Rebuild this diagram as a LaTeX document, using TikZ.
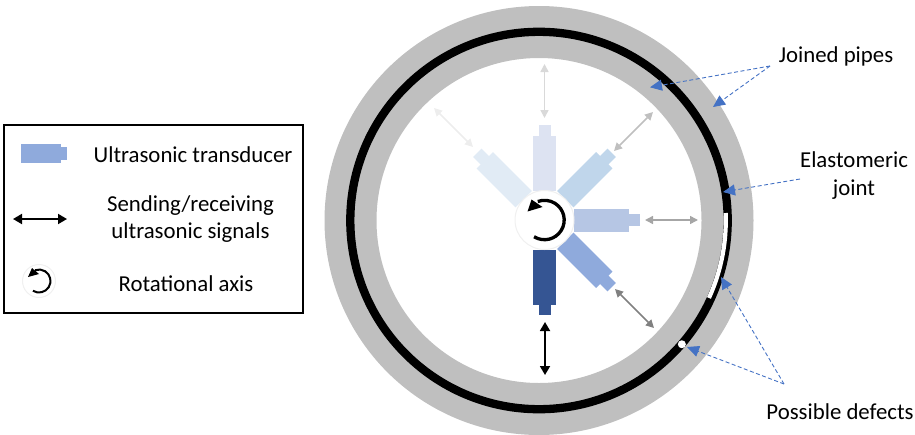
\documentclass[tikz,border=0pt]{standalone}
\usepackage{fontspec}
\setmainfont{Carlito}
\usetikzlibrary{arrows.meta,calc}
\definecolor{ringgray}{HTML}{BFBFBF}
\definecolor{callout}{HTML}{4472C4}
\definecolor{tA}{HTML}{E1EBF5}
\definecolor{tB}{HTML}{DDE3F2}
\definecolor{tC}{HTML}{C0D6EB}
\definecolor{tD}{HTML}{B6C6E4}
\definecolor{tE}{HTML}{8FAADC}
\definecolor{tF}{HTML}{355593}
\tikzset{
  x=1pt,y=-1pt,
  label text/.style={font=\fontsize{22.8}{27.5}\selectfont,inner sep=0pt,text=black,align=center},
  double arrow/.style={{Triangle[length=8pt,width=8pt]}-{Triangle[length=8pt,width=8pt]},line width=1.5pt},
  black arrow/.style={{Triangle[length=9pt,width=10pt]}-{Triangle[length=9pt,width=10pt]},line width=1.8pt,black},
  callout arrow/.style={-{Triangle[length=12pt,width=11pt]},callout,line width=.9pt,dash pattern=on 4pt off 2.5pt},
  rotor/.style={draw=black!6,line width=1pt,fill=white},
}
\newcommand{\transducer}[2]{%
  \begin{scope}[shift={(tc)},rotate=#1]
    \fill[#2] (29.5,-11.5) rectangle (84.5,11.5);
    \fill[#2] (84,-6) rectangle (95,6);
  \end{scope}}
\begin{document}
\begin{tikzpicture}
\useasboundingbox (0,0) rectangle (915,434);
\coordinate (ring) at (539,220.5);
\coordinate (tc) at (544.5,220);
% pipes
\fill[ringgray,even odd rule] (ring) circle[radius=214.5pt] (ring) circle[radius=162.5pt];
\draw[black,line width=8.3pt] (ring) circle[radius=188.7pt];
% defects
\draw[white,line width=4.2pt] ([shift={(2.3:186.8pt)}]ring) arc[start angle=2.3,end angle=-24.5,radius=186.8pt];
\fill[white] ([shift={(-40.9:189pt)}]ring) circle[radius=4pt];
% transducers
\transducer{135}{tA}
\transducer{90}{tB}
\transducer{45}{tC}
\transducer{0}{tD}
\transducer{-45}{tE}
\transducer{-90}{tF}
% rotor
\node[circle,rotor,minimum size=59pt,inner sep=0pt] (hub) at (tc) {};
\draw[line width=3.3pt,black] ([shift={(-122:19.7pt)}]tc) arc[start angle=-122,end angle=110,radius=19.7pt];
\fill[black] (527.5,211.5) -- (531.5,199.5) -- (542.5,207) -- cycle;
% signal arrows
\coordinate (s1a) at (434,108); \coordinate (s1b) at (473,147);
\coordinate (s2a) at (544.5,64); \coordinate (s2b) at (544.5,118);
\coordinate (s3a) at (614,151); \coordinate (s3b) at (653,112);
\coordinate (s4a) at (645,220); \coordinate (s4b) at (698,220);
\coordinate (s5a) at (615,289); \coordinate (s5b) at (654,328);
\coordinate (s6a) at (545,322); \coordinate (s6b) at (545,375);
\draw[double arrow,color=black!7] (s1a) -- (s1b);
\draw[double arrow,color=black!15] (s2a) -- (s2b);
\draw[double arrow,color=black!25] (s3a) -- (s3b);
\draw[double arrow,color=black!35] (s4a) -- (s4b);
\draw[double arrow,color=black!50] (s5a) -- (s5b);
\draw[black arrow] (s6a) -- (s6b);
% right labels
\node[label text] (joined) at (836,56) {Joined pipes};
\node[label text] (elast) at (854,175.5) {Elastomeric\\joint};
\node[label text] (defects) at (840,412) {Possible defects};
\coordinate (jfrom) at (770,66);
\coordinate (jt1) at (650,87.3);
\coordinate (jt2) at (713,107);
\coordinate (efrom) at (800,179);
\coordinate (et) at (723,192);
\coordinate (dfrom) at (784,384);
\coordinate (dt1) at (721,277);
\coordinate (dt2) at (687,347);
\draw[callout arrow] (jfrom) -- (jt1);
\draw[callout arrow] (jfrom) -- (jt2);
\draw[callout arrow] (efrom) -- (et);
\draw[callout arrow] (dfrom) -- (dt1);
\draw[callout arrow] (dfrom) -- (dt2);
% legend
\draw[black,line width=1.5pt] (4,125) rectangle (303,313);
\fill[tE] (21,144) rectangle (61,163);
\fill[tE] (60,147) rectangle (67,160);
\node[label text] (l1) at (193,155) {Ultrasonic transducer};
\coordinate (la) at (13,219); \coordinate (lb) at (67,219);
\draw[black arrow] (la) -- (lb);
\node[label text] (l2) at (190.5,219) {Sending/receiving\\ultrasonic signals};
\coordinate (lc) at (39,281);
\node[circle,rotor,minimum size=33pt,inner sep=0pt] (lhub) at (lc) {};
\draw[line width=2pt,black] ([shift={(-122:11.5pt)}]lc) arc[start angle=-122,end angle=110,radius=11.5pt];
\fill[black] (28,277) -- (32,268) -- (39,274) -- cycle;
\node[label text] (l3) at (186,284) {Rotational axis};
\end{tikzpicture}
\end{document}
